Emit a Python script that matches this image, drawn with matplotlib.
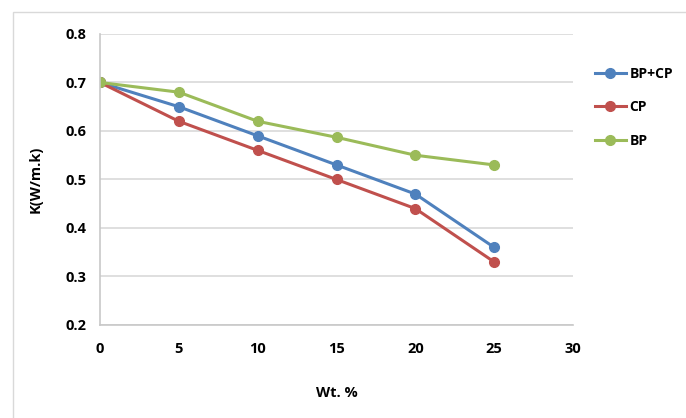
import numpy as np
import matplotlib.pyplot as plt
from matplotlib import patches

# data
wt = [0, 5, 10, 15, 20, 25]
bp_cp = [0.70, 0.65, 0.59, 0.53, 0.47, 0.36]
cp = [0.70, 0.62, 0.56, 0.50, 0.44, 0.33]
bp = [0.70, 0.68, 0.62, 0.587, 0.55, 0.53]

plt.rcParams['font.family'] = ['Open Sans', 'DejaVu Sans']
plt.rcParams['font.weight'] = 'bold'

fig = plt.figure(figsize=(6.86, 4.18), dpi=100)

# outer chart border
border = patches.Rectangle((13 / 686, -0.05), 1.0, 1 - 12 / 418 + 0.05,
                           transform=fig.transFigure, fill=False,
                           edgecolor='#d9d9d9', lw=1.0)
fig.patches.append(border)

ax = fig.add_axes([0.1458, 0.2225, 0.6895, 0.6962])

ax.plot(wt, bp_cp, '-o', color='#4F81BD', lw=2.2, ms=7, label='BP+CP')
ax.plot(wt, cp, '-o', color='#C0504D', lw=2.2, ms=7, label='CP')
ax.plot(wt, bp, '-o', color='#9BBB59', lw=2.2, ms=7, label='BP')

ax.set_xlim(0, 30)
ax.set_ylim(0.2, 0.8)
ax.set_xticks(np.arange(0, 31, 5))
ax.set_yticks(np.arange(0.2, 0.81, 0.1))
ax.set_yticklabels(['0.2', '0.3', '0.4', '0.5', '0.6', '0.7', '0.8'])
ax.yaxis.grid(True, color='#d9d9d9', lw=1.2)
ax.set_axisbelow(True)
ax.tick_params(length=0, labelsize=10.5, pad=10)
ax.tick_params(axis='x', pad=12)

for s in ['top', 'right']:
    ax.spines[s].set_visible(False)
for s in ['left', 'bottom']:
    ax.spines[s].set_color('#c8c8c8')
    ax.spines[s].set_linewidth(1.2)

ax.set_xlabel('Wt. %', fontsize=10.5, fontweight='bold', labelpad=22)
ax.set_ylabel('K(W/m.k)', fontsize=10.5, fontweight='bold', labelpad=16)

ax.legend(loc='upper left', bbox_to_anchor=(1.02, 0.93), frameon=False,
          fontsize=10, handlelength=2.2, labelspacing=1.4, handletextpad=0.3)

plt.savefig('out.png', dpi=100)
